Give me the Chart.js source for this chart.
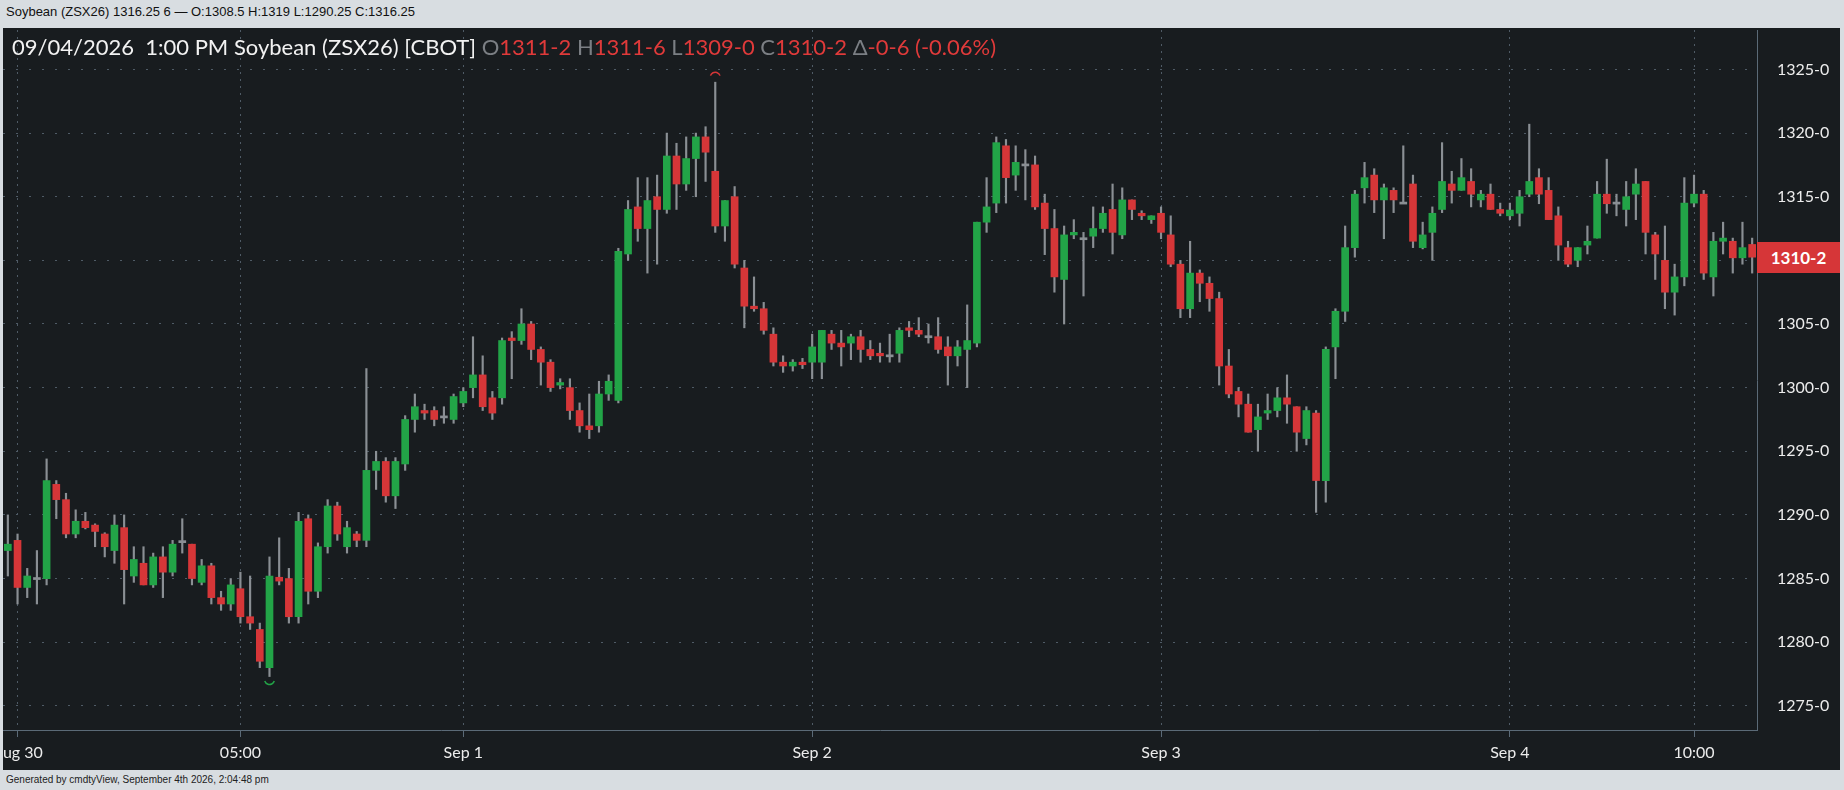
<!DOCTYPE html>
<html>
<head>
<meta charset="utf-8">
<script src="https://cdn.jsdelivr.net/npm/chart.js@4"></script>
<style>
  body { margin: 0; width: 1844px; height: 790px; background: #d8dde1; overflow: hidden; font-family: Lato, sans-serif; }
  #top { position: absolute; left: 0; top: 0; width: 1844px; height: 28px; font: 13px "Liberation Sans Narrow", "Liberation Sans", sans-serif; color: #111; line-height: 24px; padding-left: 6px; box-sizing: border-box; }
  #box { position: absolute; left: 3px; top: 28px; width: 1837px; height: 742px; background: #181c1f; overflow: hidden; }
  #legend { position: absolute; left: 12px; top: 33px; font: 22px Lato, sans-serif; color: #f2f2f2; white-space: pre; }
  #legend .g { color: #7b7f84; } #legend .r { color: #e03a3a; }
  #price { position: absolute; left: 1757px; top: 242px; width: 83px; height: 31px; background: #d63638; color: #fff; font: bold 17px Lato, sans-serif; line-height: 31px; text-align: center; }
  #foot { position: absolute; left: 6px; top: 774px; font: 10px "Liberation Sans", sans-serif; color: #222; }
</style>
</head>
<body>
<div id="top">Soybean (ZSX26) 1316.25 6 — O:1308.5 H:1319 L:1290.25 C:1316.25</div>
<div id="box"><canvas id="myChart" width="1837" height="742"></canvas></div>
<div id="legend">09/04/2026  1:00 PM Soybean (ZSX26) [CBOT] <span class="g">O</span><span class="r">1311-2</span> <span class="g">H</span><span class="r">1311-6</span> <span class="g">L</span><span class="r">1309-0</span> <span class="g">C</span><span class="r">1310-2</span> <span class="g">Δ</span><span class="r">-0-6 (-0.06%)</span></div>
<div id="price">1310-2</div>
<div id="foot">Generated by cmdtyView, September 4th 2026, 2:04:48 pm</div>
<script>
// 30 minute bars, Aug 30 - Sep 4
const opens = [1287.2,1288,1284.3,1285,1285,1292.4,1291.2,1288.5,1289.5,1289.2,1288.5,1287.2,1289,1285.2,1286.2,1284.5,1286.7,1285.5,1287.9,1287.7,
1284.7,1286,1283.5,1283,1284.2,1282,1281,1278,1285.1,1285,1282,1289.7,1284,1287.5,1290.7,1287.5,1288.5,1288,1293.5,1294.2,
1291.5,1294,1297.5,1298.2,1298.2,1297.7,1297.5,1298.8,1300,1301,1299.2,1299.2,1303.9,1303.7,1305,1303,1302,1300.2,1300,1298.2,
1297,1297,1299.5,1299,1310.5,1314.2,1312.5,1315,1314,1318.2,1316,1318,1319.7,1317,1312.7,1315,1309.4,1306.4,1306.2,1304.2,
1302,1301.7,1302,1302,1302,1304.2,1303.5,1303.5,1304,1303,1302.7,1302.5,1302.7,1304.7,1304.5,1304,1304,1303.2,1302.5,1303,
1303.5,1313,1314.5,1319,1316.7,1317.5,1317.5,1314.5,1312.5,1308.5,1312,1311.7,1311.9,1312.5,1314,1312,1314.75,1313.7,1313.2,1313.7,
1312,1309.7,1306.2,1309,1308.2,1307,1301.7,1299.7,1298.7,1296.7,1298,1298.2,1299.2,1298.5,1296,1298,1292.7,1303.2,1306,1311,
1315.7,1316.7,1314.75,1315.5,1314.5,1316,1311,1312.2,1314,1316,1315.5,1316.2,1314.75,1315.2,1314,1313.5,1313.7,1315.2,1316.5,1315.5,
1313.5,1311,1310,1311.2,1311.75,1315.2,1314.5,1314,1315.2,1316.2,1312,1310,1307.5,1308.7,1314.5,1315.2,1308.7,1311.5,1311.5,1310.2,
1311.25];
const highs = [1290,1288.5,1285.8,1287.2,1294.4,1292.7,1291.7,1290.4,1290.2,1289.3,1288.6,1290,1290,1287.5,1287.5,1287,1287.5,1288,1289.7,1287.7,
1286.5,1286.2,1284,1285,1285.5,1285.2,1281.5,1286.7,1288.2,1285.8,1290.2,1290,1287.8,1291.2,1291,1289.5,1288.7,1301.5,1295,1294.5,
1294.5,1297.8,1299.5,1298.7,1298.5,1298.5,1299.5,1300,1304,1302.5,1299.7,1303.9,1304.4,1306.2,1305.2,1303.2,1302.2,1300.7,1300.7,1298.8,
1299.5,1300.5,1301,1310.95,1314.7,1316.5,1316.5,1316.7,1320,1319.2,1319.7,1320,1320.5,1324,1314.7,1315.8,1310,1308.7,1306.7,1304.7,
1302.5,1302.2,1302.3,1304.2,1304.5,1304.5,1304.5,1304.2,1304.5,1303.7,1303.5,1304.2,1304.7,1305.2,1305.5,1305,1305.5,1304,1303.7,1306.5,
1313,1316.5,1319.7,1319.5,1319,1318.7,1318.2,1315.2,1314,1312.7,1313.2,1312.2,1314.2,1314.2,1316,1315.7,1314.75,1313.9,1313.5,1314.2,
1313.5,1310,1311.5,1309.25,1308.7,1307.5,1303,1300,1299.5,1298.7,1299.5,1300,1301,1298.5,1298.5,1298.2,1303.2,1306.2,1312.7,1315.5,
1317.7,1317.2,1316,1315.7,1319,1316.7,1313,1314.2,1319.25,1317,1318,1317.2,1315.5,1316,1314.5,1314.5,1315.5,1320.7,1317.2,1316.5,
1314.2,1311.5,1311,1312.7,1316.2,1317.95,1315.2,1316.2,1317.2,1316.2,1312.2,1312.7,1309.7,1316.5,1316.7,1315.5,1312.2,1313,1311.75,1313,
1311.75];
const lows = [1285.2,1283,1283.5,1283,1284.5,1289.7,1288.2,1288.2,1288.9,1287.5,1286.7,1286.2,1283,1284.7,1284.5,1284.3,1283.5,1285.2,1287,1284.5,
1284.5,1283,1282.5,1282.5,1281.5,1281,1278,1277.3,1284.5,1281.5,1281.5,1283,1283.5,1287,1288,1287,1287.5,1287.5,1292,1291,
1290.5,1293.5,1296.5,1297.5,1297,1297.2,1297.2,1298.5,1299.2,1298.2,1297.5,1298.7,1300.7,1303.4,1302.2,1300.2,1299.7,1299.9,1297.5,1296.5,
1296,1296.5,1299,1298.8,1310,1311.5,1309,1309.7,1313.7,1314,1315.5,1315,1316.2,1312.2,1311.5,1309.4,1304.7,1306,1304.2,1301.7,
1301.2,1301.3,1301.5,1300.7,1300.7,1303,1301.7,1302.2,1302,1302.2,1302,1302,1302,1304,1304,1303.5,1302.7,1300.2,1301.7,1300,
1303.2,1312.2,1313.75,1314.5,1315.5,1314.75,1314,1310.45,1307.5,1305,1311.7,1307.2,1311,1312.2,1310.5,1311.7,1313.2,1313.2,1312.9,1311.7,
1309.5,1305.5,1305.5,1306.75,1306,1300.2,1299.2,1297.7,1296.5,1295,1297.5,1297.7,1297.2,1295,1295.5,1290.2,1291,1300.7,1305.2,1310.25,
1314.5,1313.75,1311.7,1313.75,1314.5,1311,1310.9,1310,1313.75,1314.5,1315.5,1314.2,1314.2,1314,1313.5,1313.2,1312.7,1315,1314.45,1313.2,
1310,1309.5,1309.5,1310.5,1311.75,1313.7,1313.5,1312.7,1313.2,1310.5,1308.5,1306.2,1305.7,1308,1314.2,1308.5,1307.2,1310.5,1309,1309.7,
1309];
const closes = [1287.7,1284.3,1285.2,1285,1292.7,1291.2,1288.5,1289.5,1289,1288.7,1287.5,1289.2,1285.7,1286.5,1284.5,1286.7,1285.5,1287.7,1287.9,1285,
1286,1283.5,1283,1284.5,1282,1281.5,1278.5,1285.2,1284.8,1282,1289.5,1284,1287.5,1290.7,1288.5,1289,1288,1293.5,1294.2,1291.5,
1294.2,1297.5,1298.5,1298,1297.5,1297.7,1299.3,1299.7,1301,1298.5,1298,1303.7,1303.7,1305,1303,1302,1300,1300.4,1298.2,1297,
1296.7,1299.5,1300.5,1310.7,1314,1312.5,1314.7,1314,1318.2,1316,1318,1319.7,1318.5,1312.7,1314.7,1309.7,1306.4,1306.2,1304.5,1302,
1301.7,1302,1301.8,1303.2,1304.5,1303.5,1303.2,1304,1303,1302.5,1302.5,1302.5,1304.5,1304.5,1304.2,1304,1303,1302.5,1303.2,1303.7,
1313,1314.2,1319.25,1316.5,1317.7,1317.5,1314.2,1312.5,1308.7,1312,1312.2,1311.7,1312.5,1313.7,1312.2,1314.75,1314,1313.5,1313.5,1312.2,
1309.7,1306.2,1309,1308.2,1307,1301.7,1299.5,1298.7,1296.5,1297.7,1298.2,1299.2,1298.7,1296.5,1298.2,1292.7,1303,1306,1311,1315.2,
1316.5,1314.75,1315.7,1314.75,1314.5,1311.5,1312,1313.7,1316.2,1315.5,1316.5,1315.2,1315.2,1314,1313.7,1313.95,1315,1316.2,1315.2,1313.2,
1311.2,1309.7,1311,1311.5,1315.2,1314.45,1314.5,1315,1316,1312.2,1310.5,1307.5,1308.7,1314.5,1315.2,1309,1311.5,1311.75,1310.2,1311,
1310.25];

const tickIdx = [1, 24, 47, 83, 119, 155, 174];
const tickNames = ["Aug 30", "05:00", "Sep 1", "Sep 2", "Sep 3", "Sep 4", "10:00"];
const priceTicks = [1275, 1280, 1285, 1290, 1295, 1300, 1305, 1310, 1315, 1320, 1325];

const labels = opens.map((o, i) => i);
const wicks = opens.map((o, i) => [lows[i], highs[i]]);
const bodies = opens.map((o, i) => {
    let c = closes[i];
    if (Math.abs(c - o) < 0.1) return [o - 0.08, o + 0.08];
    return [Math.min(o, c), Math.max(o, c)];
});
const bodyColors = opens.map((o, i) => {
    let c = closes[i];
    if (Math.abs(c - o) < 0.1) return "#8a8f94";
    return c > o ? "#22a447" : "#d63638";
});

// little arcs at the extreme high and low
const markers = {
    id: "markers",
    afterDatasetsDraw(chart) {
        let ctx = chart.ctx, x = chart.scales.x, y = chart.scales.y;
        let hi = highs.indexOf(Math.max(...highs));
        let lo = lows.indexOf(Math.min(...lows));
        ctx.save();
        ctx.lineWidth = 1.5;
        ctx.strokeStyle = "#d63638";
        ctx.beginPath();
        ctx.arc(x.getPixelForValue(hi), y.getPixelForValue(highs[hi]) - 5, 5, Math.PI * 1.1, Math.PI * 1.9);
        ctx.stroke();
        ctx.strokeStyle = "#22a447";
        ctx.beginPath();
        ctx.arc(x.getPixelForValue(lo), y.getPixelForValue(lows[lo]) + 3, 5, Math.PI * 0.1, Math.PI * 0.9);
        ctx.stroke();
        ctx.restore();
    }
};

new Chart(document.getElementById("myChart"), {
    type: "bar",
    data: {
        labels: labels,
        datasets: [
            { data: bodies, backgroundColor: bodyColors, barThickness: 7, grouped: false, order: 1 },
            { data: wicks, backgroundColor: "#8a8f94", barThickness: 1.5, grouped: false, order: 2 }
        ]
    },
    options: {
        responsive: false,
        animation: false,
        layout: { padding: { left: 0, top: 2, right: 0, bottom: 0 } },
        plugins: { legend: { display: false }, tooltip: { enabled: false } },
        scales: {
            x: {
                afterBuildTicks: (s) => { s.ticks = tickIdx.map(v => ({ value: v })); },
                afterFit: (s) => { s.height = 40; s.paddingLeft = 0; s.paddingRight = 0; },
                ticks: {
                    autoSkip: false, maxRotation: 0, color: "#ececec", padding: 6,
                    font: { family: "Lato", size: 16 },
                    callback: (v) => tickNames[tickIdx.indexOf(v)]
                },
                grid: { color: "#4f5b66", tickColor: "#5b6a77", tickLength: 7, offset: false },
                border: { color: "#5b6a77", dash: [2, 5] }
            },
            y: {
                position: "right",
                min: 1273.1,
                max: 1328.1,
                afterBuildTicks: (s) => { s.ticks = priceTicks.map(v => ({ value: v })); },
                afterFit: (s) => { s.width = 83; s.paddingTop = 0; s.paddingBottom = 0; },
                ticks: {
                    color: "#ececec", padding: 20,
                    font: { family: "Lato", size: 16 },
                    callback: (v) => v + "-0"
                },
                grid: { color: "#4f5b66", drawTicks: false },
                border: { color: "#5b6a77", dash: [2, 11] }
            }
        }
    },
    plugins: [markers]
});
</script>
</body>
</html>
